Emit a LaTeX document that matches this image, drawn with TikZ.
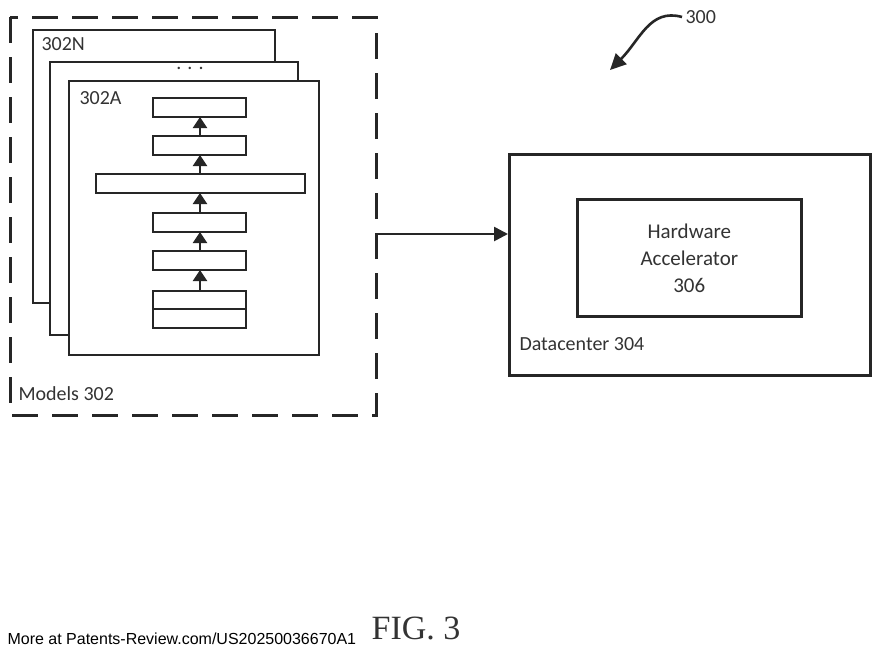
\documentclass[tikz,border=0pt]{standalone}
\usepackage{fontspec}
\setmainfont{Carlito}
\newfontfamily\figfont{Liberation Serif}
\newfontfamily\notefont{Liberation Sans}
\usetikzlibrary{arrows.meta}
\tikzset{
  box/.style={draw, line width=2.6pt, fill=white, draw=black!85},
  layer/.style={draw, line width=2.4pt, draw=black!85},
  flow/.style={line width=2.4pt, draw=black!85, -{Triangle[length=11pt,width=14pt]}},
  lbl/.style={font=\fontsize{20pt}{24pt}\selectfont, text=black!80},
}
\begin{document}
\begin{tikzpicture}[x=1pt, y=-1pt]
	\useasboundingbox (0,0) rectangle (880,657);
	%models
	\draw [line width=3pt, draw=black!85, dash pattern=on 26pt off 14pt] (10,17) rectangle (376,415);
	\node [lbl, anchor=west] (models) at (15,394) {Models 302};
	\draw [box] (33,30) rectangle (275,303);
	\node [lbl, anchor=west] (lblN) at (38,44) {302N};
	\draw [box] (50,62) rectangle (298,335);
	\node [lbl] (dots) at (190,68) {. . .};
	\draw [box] (69,81) rectangle (319,355);
	\node [lbl, anchor=west] (lblA) at (76,98) {302A};
	%layers
	\draw [layer] (153,98) rectangle (246,117);
	\draw [layer] (153,136) rectangle (246,155);
	\draw [layer] (96,174) rectangle (305,193);
	\draw [layer] (153,213) rectangle (246,232);
	\draw [layer] (153,251) rectangle (246,270);
	\draw [layer] (153,291) rectangle (246,309);
	\draw [layer] (153,309) rectangle (246,328);
	\foreach \yb/\yt in {291/270, 251/232, 213/193, 174/155, 136/117}
		\draw [flow] (200,\yb) -- (200,\yt);
	%datacenter
	\node [box, minimum width=361pt, minimum height=221pt, anchor=north west] (dc) at (508,153) {};
	\node [lbl, anchor=west] (dclbl) at (516,344) {Datacenter 304};
	\node [box, minimum width=224pt, minimum height=117pt, anchor=north west, align=center, font=\fontsize{21pt}{27pt}\selectfont, text=black!80] (hw) at (576,198) {Hardware\\Accelerator\\306};
	\coordinate (mout) at (376,234);
	\draw [line width=2.6pt, draw=black!85, -{Triangle[length=14pt,width=14pt]}] (mout) -- (mout -| dc.west);
	%ref
	\node [lbl, anchor=west] (ref) at (682,17) {300};
	\draw [line width=2.6pt, draw=black!85, -{Triangle[length=16pt,width=15pt]}] (ref.west) .. controls (650,8) and (640,40) .. (610,70);
	%caption
	\node [font=\figfont\fontsize{34pt}{36pt}\selectfont, text=black!80] (fig) at (416,628) {FIG. 3};
	\node [font=\notefont\fontsize{16pt}{18pt}\selectfont, anchor=west] (note) at (4,639) {More at Patents-Review.com/US20250036670A1};
\end{tikzpicture}
\end{document}
